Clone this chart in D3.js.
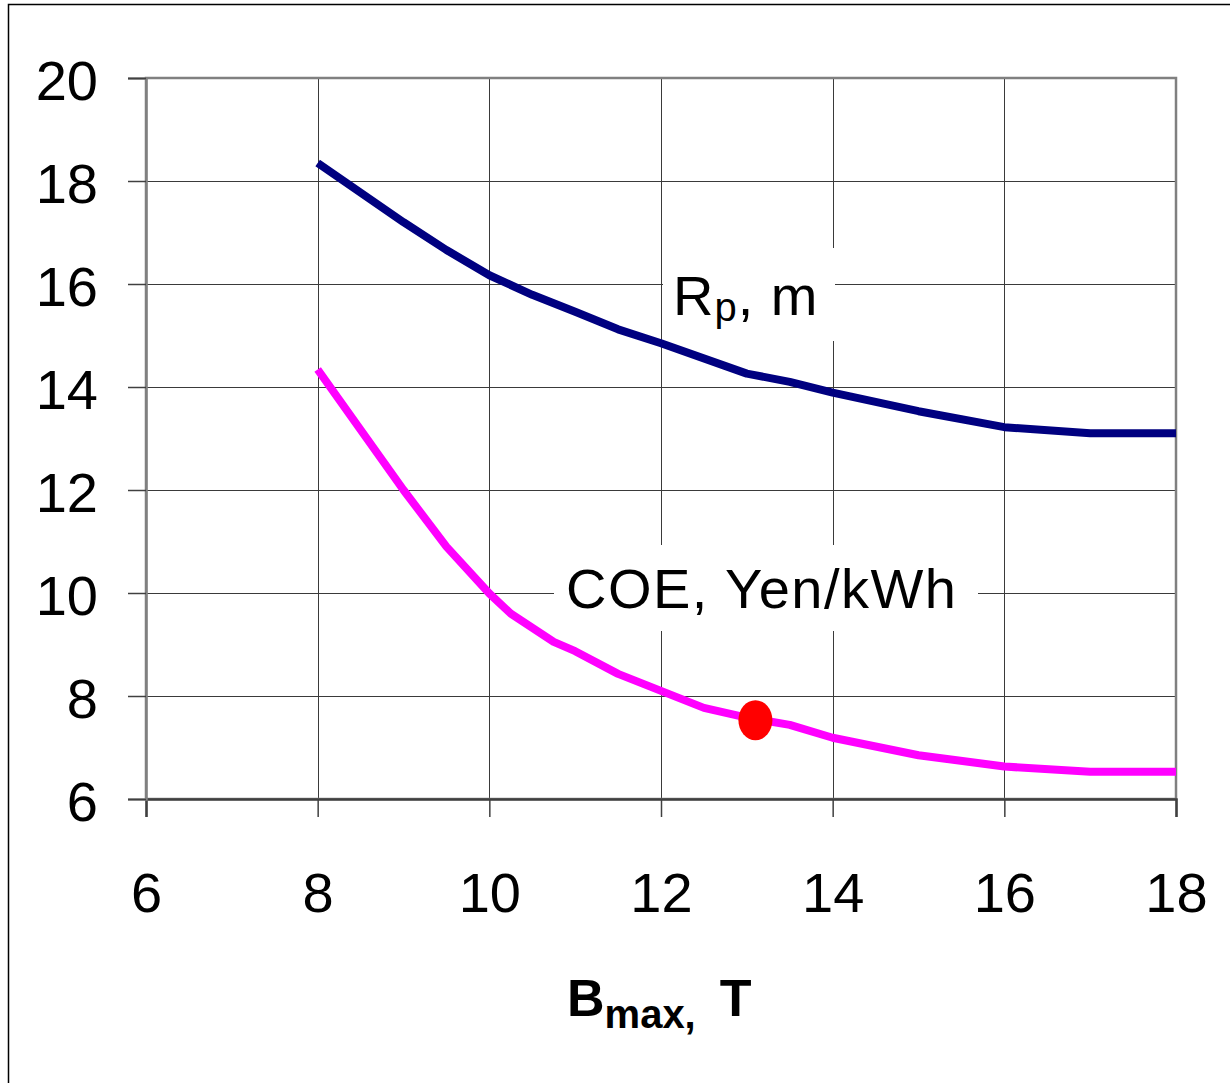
<!DOCTYPE html>
<html>
<head>
<meta charset="utf-8">
<script src="https://cdn.jsdelivr.net/npm/d3@7"></script>
<style>
  html, body { margin: 0; padding: 0; background: #fff; }
  svg { display: block; }
  text { font-family: "Liberation Sans", Arial, sans-serif; fill: #000; }
</style>
</head>
<body>
<svg id="chart" width="1230" height="1083"></svg>
<script>
// Peak field on coil vs. plasma major radius and cost of electricity
const bmaxRp = [8, 9, 9.5, 10, 10.5, 11, 11.5, 12, 13, 13.5, 14, 15, 16, 17, 18];
const rpValues = [18.35, 17.2, 16.66, 16.17, 15.79, 15.46, 15.12, 14.85, 14.26, 14.1, 13.89, 13.53, 13.22, 13.1, 13.1];

const bmaxCoe = [8, 8.5, 9, 9.5, 10, 10.25, 10.75, 11, 11.5, 12, 12.5, 13, 13.5, 14, 15, 16, 17, 18];
const coeValues = [14.34, 13.17, 12.0, 10.9, 9.99, 9.6, 9.05, 8.87, 8.43, 8.1, 7.77, 7.58, 7.44, 7.19, 6.85, 6.63, 6.53, 6.53];

// Selected design point on the COE curve
const designPoint = { bmax: 13.1, coe: 7.53 };

const xTicks = [6, 8, 10, 12, 14, 16, 18];
const yTicks = [6, 8, 10, 12, 14, 16, 18, 20];

const svg = d3.select("#chart");

// Outer frame (only left and top edges fall inside the view)
svg.append("rect")
  .attr("x", 8.5).attr("y", 4.5)
  .attr("width", 1400).attr("height", 1400)
  .attr("fill", "none").attr("stroke", "#000").attr("stroke-width", 1.5);

const x = d3.scaleLinear().domain([6, 18]).range([146, 1176]);
const y = d3.scaleLinear().domain([6, 20]).range([799, 78]);

const plotLeft = x(6), plotRight = x(18), plotTop = y(20), plotBottom = y(6);

// Gridlines
const gridX = svg.append("g")
  .attr("transform", `translate(0,${plotBottom})`)
  .call(d3.axisBottom(x).tickValues(xTicks).tickSize(-(plotBottom - plotTop)).tickFormat(""));
gridX.select(".domain").remove();
gridX.selectAll("line").attr("stroke", "#3a3a3a").attr("stroke-width", 1.2).attr("shape-rendering", "crispEdges");

const gridY = svg.append("g")
  .attr("transform", `translate(${plotLeft},0)`)
  .call(d3.axisLeft(y).tickValues(yTicks).tickSize(-(plotRight - plotLeft)).tickFormat(""));
gridY.select(".domain").remove();
gridY.selectAll("line").attr("stroke", "#3a3a3a").attr("stroke-width", 1.2).attr("shape-rendering", "crispEdges");

// Plot area border
svg.append("rect")
  .attr("x", plotLeft).attr("y", plotTop)
  .attr("width", plotRight - plotLeft).attr("height", plotBottom - plotTop)
  .attr("fill", "none").attr("stroke", "#808080").attr("stroke-width", 2.5);

// Label backgrounds (hide the gridlines behind the curve names)
svg.append("rect").attr("x", 663).attr("y", 248).attr("width", 172).attr("height", 93).attr("fill", "#fff");
svg.append("rect").attr("x", 554).attr("y", 545).attr("width", 424).attr("height", 86).attr("fill", "#fff");

// Axes with ticks and labels
const xAxis = svg.append("g")
  .attr("transform", `translate(0,${plotBottom})`)
  .call(d3.axisBottom(x).tickValues(xTicks).tickSize(18).tickPadding(55).tickFormat(d3.format("d")));
xAxis.select(".domain").attr("stroke", "#404040").attr("stroke-width", 2.5);
xAxis.selectAll("line").attr("stroke", "#404040").attr("stroke-width", 1.5);
xAxis.selectAll("text").attr("font-size", 56).attr("font-family", "Liberation Sans, Arial, sans-serif").attr("fill", "#000");

const yAxis = svg.append("g")
  .attr("transform", `translate(${plotLeft},0)`)
  .call(d3.axisLeft(y).tickValues(yTicks).tickSize(18).tickPadding(30).tickFormat(d3.format("d")));
yAxis.select(".domain").attr("stroke", "#808080").attr("stroke-width", 2.5);
yAxis.selectAll("line").attr("stroke", "#404040").attr("stroke-width", 1.5);
yAxis.selectAll("text").attr("font-size", 56).attr("dy", "0.38em")
  .attr("font-family", "Liberation Sans, Arial, sans-serif").attr("fill", "#000");

// Curves
const line = d3.line().x(d => x(d[0])).y(d => y(d[1]));

svg.append("path")
  .datum(d3.zip(bmaxRp, rpValues))
  .attr("d", line)
  .attr("fill", "none").attr("stroke", "#000080").attr("stroke-width", 8)
  .attr("stroke-linejoin", "round");

svg.append("path")
  .datum(d3.zip(bmaxCoe, coeValues))
  .attr("d", line)
  .attr("fill", "none").attr("stroke", "#ff00ff").attr("stroke-width", 8)
  .attr("stroke-linejoin", "round");

svg.append("ellipse")
  .attr("cx", x(designPoint.bmax)).attr("cy", y(designPoint.coe))
  .attr("rx", 17).attr("ry", 20)
  .attr("fill", "#ff0000");

// Curve names
const rpLabel = svg.append("text").attr("x", 673).attr("y", 315)
  .attr("font-size", 56).attr("letter-spacing", 1);
rpLabel.append("tspan").text("R");
rpLabel.append("tspan").attr("font-size", 40).attr("dy", 6).text("p");
rpLabel.append("tspan").attr("dy", -6).attr("xml:space", "preserve").text(", m");

svg.append("text").attr("x", 566).attr("y", 608)
  .attr("font-size", 56).attr("letter-spacing", 1.5)
  .text("COE, Yen/kWh");

// X axis title
const xTitle = svg.append("text").attr("x", 567).attr("y", 1016)
  .attr("font-size", 52).attr("font-weight", "bold");
xTitle.append("tspan").text("B");
xTitle.append("tspan").attr("font-size", 40).attr("dy", 12).text("max,");
xTitle.append("tspan").attr("dy", -12).attr("dx", 24).text("T");
</script>
</body>
</html>
